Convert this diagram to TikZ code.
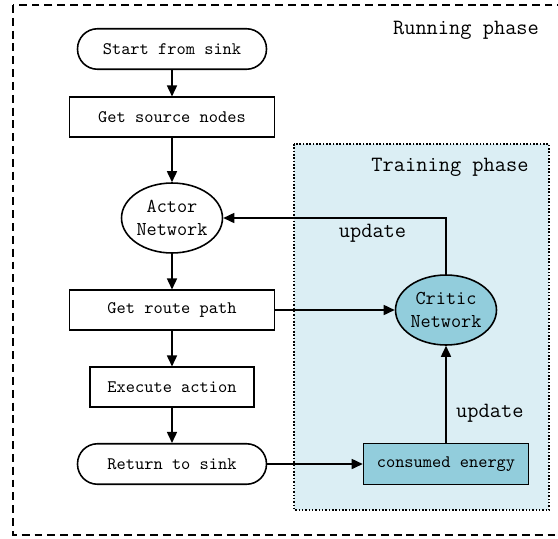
\documentclass[tikz,border=0pt]{standalone}
\usetikzlibrary{shapes.geometric,arrows.meta}

\definecolor{trainbg}{HTML}{DBEEF4}
\definecolor{netfill}{HTML}{92CDDC}

\tikzset{
  flowline/.style={line width=0.9pt},
  proc/.style={draw=black,flowline,shape=rectangle,minimum height=0.79cm,
    font=\ttfamily\fontsize{10}{11}\selectfont},
  term/.style={proc,rounded corners=0.4cm,minimum width=3.78cm,minimum height=0.81cm},
  net/.style={draw=black,flowline,shape=ellipse,inner sep=0pt,
    minimum width=2.02cm,minimum height=1.4cm,align=center,
    font=\ttfamily\fontsize{11.2}{13}\selectfont},
  phase/.style={font=\ttfamily\fontsize{12.4}{14}\selectfont},
  >={Triangle[length=2.2mm,width=2mm]}
}

\begin{document}
\begin{tikzpicture}[x=0.02cm,y=-0.02cm]
  \useasboundingbox (0,0) rectangle (558,538);

  % the two phases
  \draw[line width=1.4pt,dash pattern=on 4.5pt off 2.8pt] (13,5) rectangle (580,535);
  \draw[fill=trainbg,line width=0.9pt,densely dotted] (294,144) rectangle (549,510);
  \node[phase] (run) at (466,30) {Running phase};
  \node[phase] (train) at (450,167) {Training phase};

  % running loop
  \node[term] (start) at (172,49) {Start from sink};
  \node[proc,minimum width=4.1cm] (src) at (172,117) {Get source nodes};
  \node[net] (actor) at (172,218) {Actor\\Network};
  \node[proc,minimum width=4.1cm] (route) at (172,310) {Get route path};
  \node[proc,minimum width=3.28cm] (exec) at (172,387) {Execute action};
  \node[term] (ret) at (172,464) {Return to sink};

  % training part
  \node[net,fill=netfill] (critic) at (446,310) {Critic\\Network};
  \node[proc,fill=netfill,minimum width=3.3cm,minimum height=0.82cm] (energy) at (446,464) {consumed energy};
  \coordinate (up) at (446,218);

  \path [->,flowline] (start) edge (src);
  \path [->,flowline] (src) edge (actor);
  \path [->,flowline] (actor) edge (route);
  \path [->,flowline] (route) edge (exec);
  \path [->,flowline] (exec) edge (ret);
  \path [->,flowline] (route) edge (critic);
  \path [->,flowline] (ret) edge (energy);
  \path [->,flowline] (energy) edge node[phase,right=2pt,pos=0.3] {update} (critic);
  \draw [->,flowline] (critic.north) -- (up) -- node[phase,below=0pt,pos=0.33] {update} (actor.east);
\end{tikzpicture}
\end{document}
